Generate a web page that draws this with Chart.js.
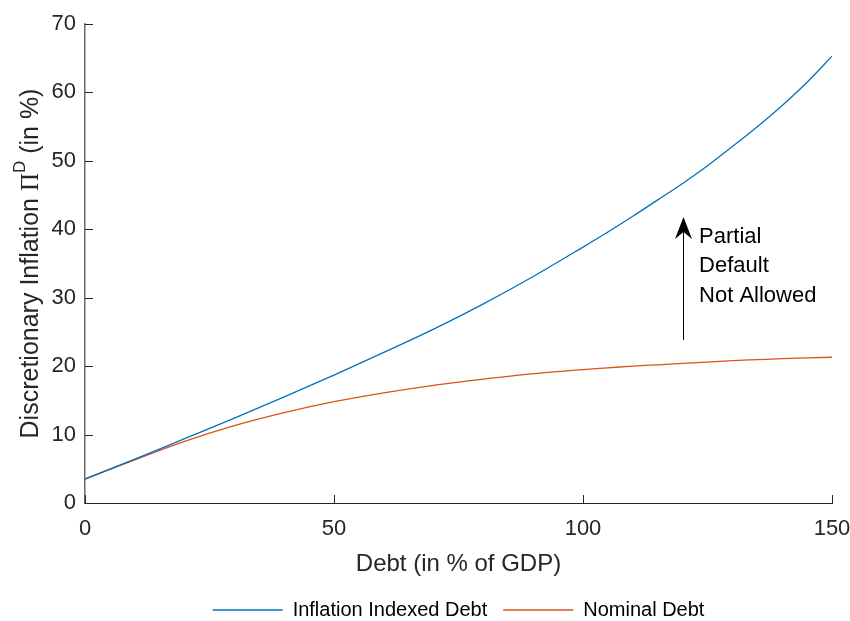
<!DOCTYPE html>
<html>
<head>
<meta charset="utf-8">
<title>Discretionary Inflation and Debt</title>
<script src="https://cdn.jsdelivr.net/npm/chart.js@4.4.1/dist/chart.umd.min.js"></script>
<style>
  html, body { margin: 0; padding: 0; background: #ffffff; }
  #wrap { width: 850px; height: 621px; }
</style>
</head>
<body>
<div id="wrap"><canvas id="chart" width="850" height="621"></canvas></div>
<script>
// Debt level (in % of GDP)
const debt = [0, 10, 20, 30, 40, 50, 60, 70, 80, 90, 100, 105, 110, 115, 120, 125, 130, 135, 140, 145, 150];
// Discretionary inflation (in %) when debt is inflation indexed
const indexedInflation = [3.5, 6.4, 9.4, 12.4, 15.5, 18.7, 22.0, 25.4, 29.1, 33.1, 37.4, 39.6, 41.9, 44.3, 46.7, 49.3, 52.1, 55.0, 58.1, 61.5, 65.3];
// Discretionary inflation (in %) when debt is nominal
const nominalInflation = [3.5, 6.3, 9.0, 11.3, 13.2, 14.8, 16.1, 17.2, 18.1, 18.9, 19.5, 19.75, 20.0, 20.2, 20.4, 20.6, 20.8, 20.95, 21.1, 21.2, 21.3];

const seriesNames = ['Inflation Indexed Debt', 'Nominal Debt'];
const xTicks = [0, 50, 100, 150];
const yTicks = [0, 10, 20, 30, 40, 50, 60, 70];

// Annotation: arrow at debt = 120 from 23.8 % up to 41.8 %, with a note beside it
const arrowDebt = 120;
const arrowFrom = 23.8;
const arrowTo = 41.8;
const noteDebt = 123.3;
const noteLines = ['Partial', 'Default', 'Not Allowed'];
const noteLevels = [38.9, 34.6, 30.3];

const FONT = '"Liberation Sans", Arial, Helvetica, sans-serif';
const AXIS_COLOR = '#262626';

const toPoints = (xs, ys) => xs.map((x, i) => ({ x: x, y: ys[i] }));

// Inward-facing tick marks on the left and bottom axes
const inwardTicks = {
  id: 'inwardTicks',
  afterDatasetsDraw(chart) {
    const { ctx, chartArea, scales } = chart;
    ctx.save();
    ctx.strokeStyle = AXIS_COLOR;
    ctx.lineWidth = 1;
    ctx.beginPath();
    xTicks.forEach(v => {
      const px = Math.round(scales.x.getPixelForValue(v)) + 0.5;
      ctx.moveTo(px, chartArea.bottom);
      ctx.lineTo(px, chartArea.bottom - 8);
    });
    yTicks.forEach(v => {
      const py = Math.round(scales.y.getPixelForValue(v)) + 0.5;
      ctx.moveTo(chartArea.left, py);
      ctx.lineTo(chartArea.left + 8, py);
    });
    ctx.stroke();
    ctx.restore();
  }
};

// Keep the legend centred under the plot area
const centerLegend = {
  id: 'centerLegend',
  afterLayout(chart) {
    const lg = chart.legend;
    const ca = chart.chartArea;
    if (!lg || !ca) return;
    const w = lg.right - lg.left;
    const c = (ca.left + ca.right) / 2;
    lg.left = c - w / 2;
    lg.right = c + w / 2;
  }
};

// Y axis title with the Pi symbol and a superscript D
const yTitle = {
  id: 'yTitle',
  afterDraw(chart) {
    const { ctx, chartArea } = chart;
    const parts = [
      { t: 'Discretionary Inflation ', f: '25px ' + FONT, dy: 0 },
      { t: 'Π', f: '25px "Liberation Serif", "Times New Roman", serif', dy: 0 },
      { t: 'D', f: '17px ' + FONT, dy: -11 },
      { t: ' (in %)', f: '25px ' + FONT, dy: 0 }
    ];
    ctx.save();
    let total = 0;
    parts.forEach(p => { ctx.font = p.f; p.w = ctx.measureText(p.t).width; total += p.w; });
    const cy = (chartArea.top + chartArea.bottom) / 2;
    ctx.translate(31, cy);
    ctx.rotate(-Math.PI / 2);
    ctx.fillStyle = AXIS_COLOR;
    ctx.textBaseline = 'middle';
    ctx.textAlign = 'left';
    let x = -total / 2;
    parts.forEach(p => {
      ctx.font = p.f;
      ctx.fillText(p.t, x, p.dy);
      x += p.w;
    });
    ctx.restore();
  }
};

// Arrow and its text note
const arrowNote = {
  id: 'arrowNote',
  afterDatasetsDraw(chart) {
    const { ctx, scales } = chart;
    const ax = Math.round(scales.x.getPixelForValue(arrowDebt)) + 0.5;
    const y0 = scales.y.getPixelForValue(arrowFrom);
    const y1 = scales.y.getPixelForValue(arrowTo);
    ctx.save();
    ctx.strokeStyle = '#000';
    ctx.fillStyle = '#000';
    ctx.lineWidth = 1;
    ctx.beginPath();
    ctx.moveTo(ax, y0);
    ctx.lineTo(ax, y1 + 12);
    ctx.stroke();
    // concave arrow head
    ctx.beginPath();
    ctx.moveTo(ax, y1);
    ctx.lineTo(ax + 8.5, y1 + 22);
    ctx.lineTo(ax, y1 + 15);
    ctx.lineTo(ax - 8.5, y1 + 22);
    ctx.closePath();
    ctx.fill();
    ctx.font = '22px ' + FONT;
    ctx.textAlign = 'left';
    ctx.textBaseline = 'middle';
    const tx = scales.x.getPixelForValue(noteDebt);
    noteLines.forEach((line, i) => {
      ctx.fillText(line, tx, scales.y.getPixelForValue(noteLevels[i]));
    });
    ctx.restore();
  }
};

new Chart(document.getElementById('chart'), {
  type: 'line',
  data: {
    datasets: [
      {
        label: seriesNames[0],
        data: toPoints(debt, indexedInflation),
        borderColor: '#0072BD',
        backgroundColor: '#0072BD',
        borderWidth: 1.3,
        pointRadius: 0,
        cubicInterpolationMode: 'monotone',
        fill: false
      },
      {
        label: seriesNames[1],
        data: toPoints(debt, nominalInflation),
        borderColor: '#D95319',
        backgroundColor: '#D95319',
        borderWidth: 1.3,
        pointRadius: 0,
        cubicInterpolationMode: 'monotone',
        fill: false
      }
    ]
  },
  options: {
    responsive: false,
    animation: false,
    devicePixelRatio: 1,
    layout: { padding: { left: 0, right: 18, top: 24, bottom: -9 } },
    plugins: {
      legend: {
        position: 'bottom',
        labels: {
          usePointStyle: true,
          pointStyle: 'line',
          pointStyleWidth: 70,
          padding: 16,
          color: '#000',
          font: { family: FONT, size: 20 }
        }
      },
      tooltip: { enabled: false }
    },
    scales: {
      x: {
        type: 'linear',
        min: 0,
        max: 150,
        afterBuildTicks: s => { s.ticks = xTicks.map(v => ({ value: v })); },
        afterFit: s => { s.height = 81; s.paddingLeft = 0; s.paddingRight = 0; },
        grid: { display: false, drawTicks: false },
        border: { display: true, color: AXIS_COLOR, width: 1 },
        ticks: { color: AXIS_COLOR, padding: 13, font: { family: FONT, size: 22 } },
        title: {
          display: true,
          text: 'Debt (in % of GDP)',
          color: AXIS_COLOR,
          padding: { top: 4, bottom: 5 },
          font: { family: FONT, size: 24 }
        }
      },
      y: {
        type: 'linear',
        min: 0,
        max: 70,
        afterBuildTicks: s => { s.ticks = yTicks.map(v => ({ value: v })); },
        afterFit: s => { s.width = 85; },
        grid: { display: false, drawTicks: false },
        border: { display: true, color: '#6a6a6a', width: 1.5 },
        ticks: { color: AXIS_COLOR, padding: 9, font: { family: FONT, size: 22 } }
      }
    }
  },
  plugins: [inwardTicks, arrowNote, yTitle, centerLegend]
});
</script>
</body>
</html>
